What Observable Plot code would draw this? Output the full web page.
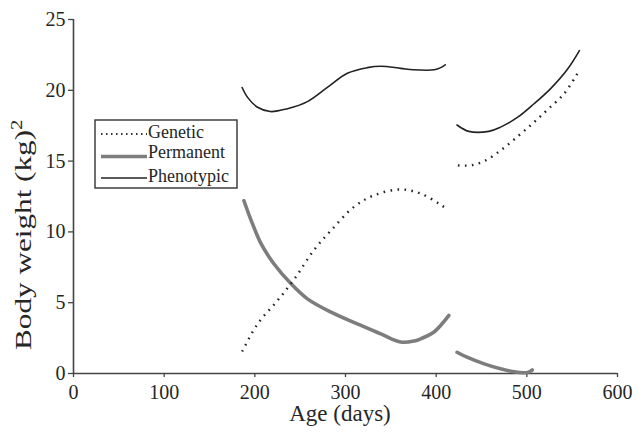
<!DOCTYPE html>
<html>
<head>
<meta charset="utf-8">
<script src="https://cdn.jsdelivr.net/npm/d3@7"></script>
<script src="https://cdn.jsdelivr.net/npm/@observablehq/plot@0.6"></script>
<style>
  html, body { margin: 0; padding: 0; background: #fff; }
  #chart svg { display: block; }
</style>
</head>
<body>
<div id="chart"></div>
<script>
// Variance components of body weight across age (two recording periods)
const seriesNames = ["Genetic", "Permanent", "Phenotypic"];

// Genetic variance
const geneticAge1 = [186, 203, 225, 245, 265, 284, 309, 331, 361, 383, 403, 411];
const geneticVal1 = [1.55, 3.5, 5.15, 6.8, 8.7, 10.1, 11.75, 12.57, 13.0, 12.7, 12.0, 11.65];
const geneticAge2 = [424, 438, 453, 471, 491, 508, 524, 541, 556];
const geneticVal2 = [14.7, 14.7, 15.0, 15.75, 16.8, 17.75, 18.7, 19.75, 21.2];

// Permanent environmental variance
const permanentAge1 = [188, 196, 207, 221, 240, 258, 284, 313, 339, 361, 376, 383, 398, 414];
const permanentVal1 = [12.2, 10.8, 9.15, 7.75, 6.33, 5.27, 4.33, 3.5, 2.8, 2.22, 2.3, 2.45, 2.95, 4.1];
const permanentAge2 = [423, 434, 453, 471, 486, 496, 502, 506];
const permanentVal2 = [1.5, 1.15, 0.68, 0.33, 0.12, 0.05, 0.1, 0.25];

// Phenotypic variance
const phenotypicAge1 = [186, 192, 203, 217, 236, 258, 280, 302, 324, 339, 361, 375, 398, 405, 410];
const phenotypicVal1 = [20.2, 19.5, 18.8, 18.5, 18.7, 19.2, 20.2, 21.2, 21.6, 21.7, 21.55, 21.45, 21.45, 21.6, 21.8];
const phenotypicAge2 = [423, 436, 458, 471, 490, 508, 526, 545, 558];
const phenotypicVal2 = [17.55, 17.1, 17.1, 17.4, 18.1, 19.05, 20.1, 21.5, 22.8];

const xTicks = [0, 100, 200, 300, 400, 500, 600];
const yTicks = [0, 5, 10, 15, 20, 25];

function rows(series, seg, ages, vals) {
  return ages.map((a, i) => ({series, seg: series + seg, age: a, value: vals[i]}));
}
const genetic = [...rows("Genetic", 1, geneticAge1, geneticVal1), ...rows("Genetic", 2, geneticAge2, geneticVal2)];
const permanent = [...rows("Permanent", 1, permanentAge1, permanentVal1), ...rows("Permanent", 2, permanentAge2, permanentVal2)];
const phenotypic = [...rows("Phenotypic", 1, phenotypicAge1, phenotypicVal1), ...rows("Phenotypic", 2, phenotypicAge2, phenotypicVal2)];

const font = "'Liberation Serif', 'Times New Roman', serif";
const ink = "#262626";

const chart = Plot.plot({
  width: 643,
  height: 432,
  marginLeft: 73,
  marginRight: 26,
  marginTop: 19,
  marginBottom: 59,
  style: {fontFamily: font, fontSize: "20px", color: ink, background: "#fff"},
  x: {domain: [0, 600], ticks: xTicks},
  y: {domain: [0, 25], ticks: yTicks},
  marks: [
    Plot.axisX({ticks: xTicks, tickSize: 4, tickPadding: 7, fontSize: 20, label: null, stroke: "#444", strokeWidth: 1.3}),
    Plot.axisY({ticks: yTicks, tickSize: 5, tickPadding: 3, fontSize: 20, label: null, stroke: "#444", strokeWidth: 1.3}),
    Plot.ruleY([0], {stroke: "#444", strokeWidth: 1.6}),
    Plot.ruleX([0], {stroke: "#444", strokeWidth: 1.6}),
    Plot.line(permanent, {x: "age", y: "value", z: "seg", stroke: "#7d7d7d", strokeWidth: 3.6, curve: "catmull-rom"}),
    Plot.line(genetic, {x: "age", y: "value", z: "seg", stroke: "#222", strokeWidth: 2.4, strokeDasharray: "1.6,5.4", strokeLinecap: "butt", curve: "catmull-rom"}),
    Plot.line(phenotypic, {x: "age", y: "value", z: "seg", stroke: "#222", strokeWidth: 1.6, curve: "catmull-rom"})
  ]
});

const svg = d3.select(chart);

// Axis titles
svg.append("text")
  .attr("x", 340).attr("y", 421)
  .attr("text-anchor", "middle")
  .attr("font-family", font).attr("font-size", 23).attr("fill", ink)
  .text("Age (days)");

const yTitle = svg.append("text")
  .attr("transform", "translate(31,350) rotate(-90) scale(1.3,1)")
  .attr("text-anchor", "start")
  .attr("font-family", font).attr("font-size", 24).attr("fill", ink);
yTitle.append("tspan").text("Body weight (kg)");
yTitle.append("tspan").attr("dy", -9).attr("font-size", 16).text("2");

// Legend box
const lg = svg.append("g").attr("font-family", font).attr("font-size", 18).attr("fill", ink).attr("text-anchor", "start");
lg.append("rect").attr("x", 95).attr("y", 120).attr("width", 142).attr("height", 68)
  .attr("fill", "#fff").attr("stroke", "#333").attr("stroke-width", 1.4);
const legendRows = [
  {name: seriesNames[0], y: 134, base: 137.5, stroke: "#333", width: 1.8, dash: "1.5,3.5"},
  {name: seriesNames[1], y: 156.5, base: 158, stroke: "#7d7d7d", width: 3.6, dash: null},
  {name: seriesNames[2], y: 178, base: 182, stroke: "#222", width: 1.6, dash: null}
];
for (const r of legendRows) {
  const l = lg.append("line").attr("x1", 101).attr("x2", 147).attr("y1", r.y).attr("y2", r.y)
    .attr("stroke", r.stroke).attr("stroke-width", r.width);
  if (r.dash) l.attr("stroke-dasharray", r.dash);
  lg.append("text").attr("x", 148).attr("y", r.base).text(r.name);
}

document.getElementById("chart").appendChild(chart);
</script>
</body>
</html>
